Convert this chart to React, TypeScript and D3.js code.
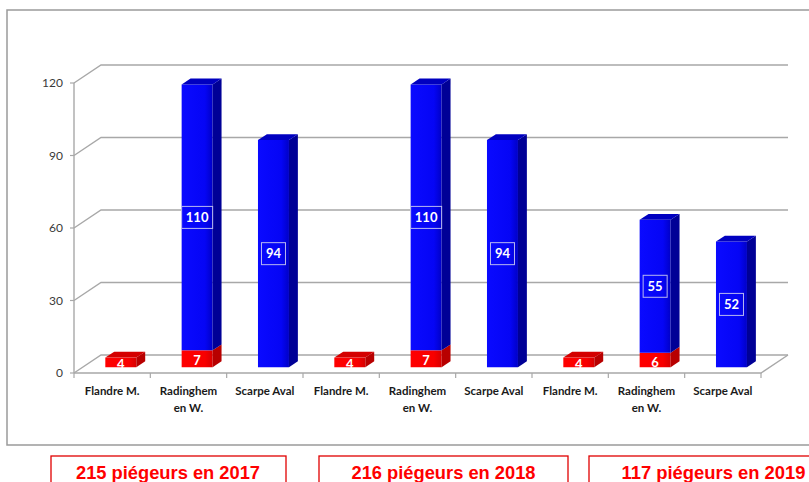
import React from "react";
import * as d3 from "d3";

const sites = ["Flandre M.", "Radinghem en W.", "Scarpe Aval"];
const years = ["2017", "2018", "2019"];
const redValues = [4, 7, 0, 4, 7, 0, 4, 6, 0];
const blueValues = [0, 110, 94, 0, 110, 94, 0, 55, 52];
const yTicks = [0, 30, 60, 90, 120];
const trappers = [215, 216, 117];

const W = 809;
const H = 482;
const DX = 27;
const DY = 18;
const Z0 = 0.32;
const Z1 = 0.65;

const keys = years.flatMap((yr) => sites.map((s) => `${yr}|${s}`));
const siteLines: Record<string, string[]> = {
  "Flandre M.": ["Flandre M."],
  "Radinghem en W.": ["Radinghem", "en W."],
  "Scarpe Aval": ["Scarpe Aval"],
};

const boxLayout = [
  { x: 51, w: 235, tx: 168 },
  { x: 319, w: 249, tx: 443.5 },
  { x: 589, w: 251, tx: 713.5 },
];

export default function App() {
  const x = d3.scaleBand<string>().domain(keys).range([74, 761]).padding(0);
  const y = d3.scaleLinear().domain([0, 120]).range([373, 83]);
  const bw = x.bandwidth() * 0.406;

  const P = (px: number, v: number, z: number) => [px + z * DX, y(v) - z * DY];
  const poly = (pts: number[][]) => pts.map((p) => p.join(",")).join(" ");

  const segment = (
    key: string,
    v0: number,
    v1: number,
    colors: { front: string; side: string; top: string },
    showTop: boolean
  ) => {
    const cx = (x(key) as number) + x.bandwidth() / 2;
    const xl = cx - bw / 2;
    const xr = cx + bw / 2;
    const front = [P(xl, v0, Z0), P(xr, v0, Z0), P(xr, v1, Z0), P(xl, v1, Z0)];
    const side = [P(xr, v0, Z0), P(xr, v0, Z1), P(xr, v1, Z1), P(xr, v1, Z0)];
    const top = [P(xl, v1, Z0), P(xr, v1, Z0), P(xr, v1, Z1), P(xl, v1, Z1)];
    return (
      <g key={key + v0}>
        <polygon points={poly(front)} fill={colors.front} />
        <polygon points={poly(side)} fill={colors.side} />
        {showTop && <polygon points={poly(top)} fill={colors.top} />}
      </g>
    );
  };

  const gridColor = "#a8a8a8";
  const fontLabel = "Lato, 'Open Sans', 'DejaVu Sans', sans-serif";

  return (
    <svg
      width={W}
      height={H}
      style={{ position: "absolute", left: 0, top: 0, background: "#fff" }}
      fontFamily={fontLabel}
    >
      <defs>
        <linearGradient id="blueFront" x1="0" x2="1" y1="0" y2="0">
          <stop offset="0" stopColor="#0a0aff" />
          <stop offset="0.75" stopColor="#0505f5" />
          <stop offset="1" stopColor="#0000c8" />
        </linearGradient>
        <linearGradient id="redFront" x1="0" x2="1" y1="0" y2="0">
          <stop offset="0" stopColor="#ff0000" />
          <stop offset="0.75" stopColor="#f80000" />
          <stop offset="1" stopColor="#d80000" />
        </linearGradient>
      </defs>
      <rect x={0} y={0} width={W} height={H} fill="#fff" />
      <rect x={7} y={10} width={W + 20} height={435} fill="none" stroke="#9a9a9a" strokeWidth={1.5} />

      {yTicks.map((t) => (
        <polyline
          key={"g" + t}
          points={poly([
            [74, y(t)],
            [74 + DX, y(t) - DY],
            [761 + DX, y(t) - DY],
          ])}
          fill="none"
          stroke={gridColor}
          strokeWidth={1.4}
        />
      ))}
      <polyline
        points={poly([
          [74, y(0)],
          [761, y(0)],
          [761 + DX, y(0) - DY],
        ])}
        fill="none"
        stroke={gridColor}
        strokeWidth={1.4}
      />
      <line x1={74} x2={74} y1={y(120)} y2={y(0)} stroke={gridColor} strokeWidth={1.4} />
      {yTicks.map((t) => (
        <g key={"yt" + t}>
          <line x1={70} x2={74} y1={y(t)} y2={y(t)} stroke={gridColor} strokeWidth={1.2} />
          <text x={63} y={y(t)} dy="0.35em" textAnchor="end" fontSize={12} fill="#3a3a3a">
            {t}
          </text>
        </g>
      ))}
      {keys.map((k) => (
        <line
          key={"xt" + k}
          x1={x(k) as number}
          x2={x(k) as number}
          y1={y(0)}
          y2={y(0) + 5}
          stroke={gridColor}
          strokeWidth={1.2}
        />
      ))}
      <line x1={761} x2={761} y1={y(0)} y2={y(0) + 5} stroke={gridColor} strokeWidth={1.2} />

      {keys.map((k, i) => {
        const r = redValues[i];
        const b = blueValues[i];
        return (
          <g key={"bar" + k}>
            {r > 0 &&
              segment(k, 0, r, { front: "url(#redFront)", side: "#b80000", top: "#d40000" }, b === 0)}
            {b > 0 &&
              segment(k, r, r + b, { front: "url(#blueFront)", side: "#000096", top: "#0000c0" }, true)}
          </g>
        );
      })}

      {keys.map((k, i) => {
        const r = redValues[i];
        const b = blueValues[i];
        const cx = (x(k) as number) + x.bandwidth() / 2 + Z0 * DX;
        const out: React.ReactNode[] = [];
        if (r > 0) {
          const cy = y(r / 2) - Z0 * DY + 2;
          out.push(
            <text
              key={"rl" + k}
              x={cx}
              y={cy}
              dy="0.36em"
              textAnchor="middle"
              fontSize={13}
              fontWeight="bold"
              fill="#ffffff"
            >
              {r}
            </text>
          );
        }
        if (b > 0) {
          const cy = y(r + b / 2) - Z0 * DY;
          const s = String(b);
          const bwid = s.length * 7 + 10;
          out.push(
            <g key={"bl" + k}>
              <rect
                x={cx - bwid / 2}
                y={cy - 11}
                width={bwid}
                height={22}
                fill="none"
                stroke="#b8b8f0"
                strokeWidth={1}
              />
              <text x={cx} y={cy} dy="0.36em" textAnchor="middle" fontSize={13} fontWeight="bold" fill="#ffffff">
                {s}
              </text>
            </g>
          );
        }
        return <g key={"lab" + k}>{out}</g>;
      })}

      {keys.map((k) => {
        const site = k.split("|")[1];
        const cx = (x(k) as number) + x.bandwidth() / 2;
        return (
          <text key={"cl" + k} textAnchor="middle" fontSize={11.5} fontWeight="bold" fill="#1a1a1a">
            {siteLines[site].map((ln, j) => (
              <tspan key={j} x={cx} y={395 + j * 17}>
                {ln}
              </tspan>
            ))}
          </text>
        );
      })}

      {trappers.map((n, i) => {
        const b = boxLayout[i];
        return (
          <g key={"box" + i}>
            <rect x={b.x} y={456} width={b.w} height={40} fill="#fff" stroke="#e00000" strokeWidth={1.3} />
            <text
              x={b.tx}
              y={479}
              textAnchor="middle"
              fontFamily="'Liberation Sans', Arial, sans-serif"
              fontWeight="bold"
              fontSize={19}
              fill="#ff0000"
              textLength={184}
              lengthAdjust="spacingAndGlyphs"
            >
              {`${n} piégeurs en ${years[i]}`}
            </text>
          </g>
        );
      })}
    </svg>
  );
}
